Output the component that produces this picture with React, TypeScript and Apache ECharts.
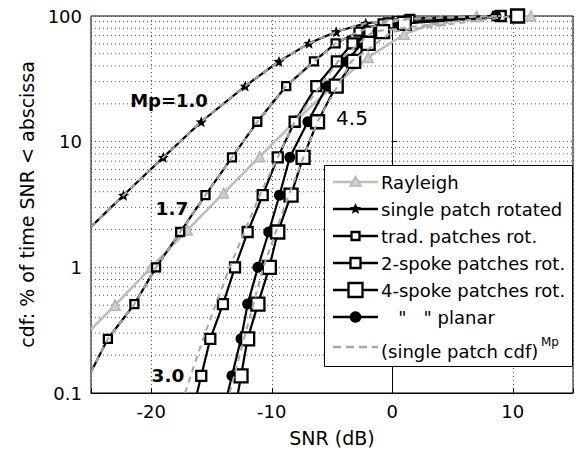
import React, { useEffect, useRef } from "react";
import * as echarts from "echarts";

// ---------- data ----------
const rayleighSnr = [-25, -23, -20, -17, -14, -11, -8, -5, -2, 1, 4, 7, 11.5];
const rayleighCdf = [0.32, 0.5, 1.0, 1.98, 3.9, 7.6, 14.7, 27.2, 46.8, 71.6, 91.9, 99.3, 100];

const singleSnr = [-25, -22.3, -19.0, -15.85, -12.2, -9.4, -6.9, -4.65, -2.2, 1.0, 8.5];
const singleCdf = [2.1, 3.75, 7.5, 14.4, 27.7, 43.5, 60.6, 75, 87.5, 95, 100];

const tradSnr = [-25, -23.6, -21.4, -19.6, -17.6, -15.5, -13.3, -11.2, -8.8, -6.5, -4.7, -2.8, -0.8, 1.5, 8.7];
const tradCdf = [0.147, 0.27, 0.51, 1.0, 1.91, 3.75, 7.5, 14.4, 27.7, 43.5, 60.6, 75, 87.5, 95, 100];

const spokeCdf = [0.1, 0.137, 0.27, 0.51, 1.0, 1.91, 3.75, 7.5, 14.4, 27.7, 43.5, 60.6, 75, 87.5, 100];
const spoke2Snr = [-16.2, -15.85, -15.1, -14.05, -13.05, -12.0, -10.75, -9.5, -8.1, -6.3, -4.6, -3.3, -1.9, -0.3, 9.0];
const spoke4Snr = [-12.8, -12.55, -12.0, -11.15, -10.2, -9.5, -8.4, -7.4, -6.2, -4.65, -3.2, -2.0, -0.8, 1.0, 10.4];
const planarSnr = [-13.65, -13.3, -12.55, -12.0, -11.15, -10.25, -9.36, -8.5, -7.0, -5.4, -3.8, -2.5, -1.2, 0.5, 8.6];

const dashCdf = [0.1, 0.27, 1.0, 3.75, 14.4, 43.5, 75, 100];
const dash30Snr = [-17.2, -15.7, -13.5, -11.0, -8.1, -4.5, -1.6, 9.0];
const dash45Snr = [-13.5, -12.3, -10.7, -8.6, -6.2, -3.4, 0.0, 10.0];

const xTicks = [-20, -10, 0, 10];
const xRange = [-25, 15];
const minorGridValues = [0.2, 0.3, 0.4, 0.5, 0.6, 0.7, 0.8, 0.9, 2, 3, 4, 5, 6, 7, 8, 9, 20, 30, 40, 50, 60, 70, 80, 90];

const legendLabels = [
  "Rayleigh",
  "single patch rotated",
  "trad. patches rot.",
  "2-spoke patches rot.",
  "4-spoke patches rot.",
  "\u00a0\u00a0\u00a0\"\u00a0\u00a0\u00a0\" planar",
  "(single patch cdf)",
];

// ---------- styles ----------
const FONT = "DejaVu Sans";
const STAR =
  "path://M0,-10L2.6,-3.6L9.5,-3.1L4.2,1.4L5.9,8.1L0,4.4L-5.9,8.1L-4.2,1.4L-9.5,-3.1L-2.6,-3.6Z";
const GREY = "#bdbdbd";
const DASH_GREY = "#a6a6a6";
const GRID_DOT = { color: "#555", type: [1, 3], width: 1 };

function pts(snr: number[], cdf: number[], bareFirst: boolean) {
  return snr.map((x, i) =>
    bareFirst && i === 0 ? { value: [x, cdf[i]], symbol: "none" } : { value: [x, cdf[i]] }
  );
}

function starPoints(cx: number, cy: number, r: number) {
  const out: number[][] = [];
  for (let i = 0; i < 10; i++) {
    const a = -Math.PI / 2 + (i * Math.PI) / 5;
    const rr = i % 2 === 0 ? r : r * 0.45;
    out.push([cx + rr * Math.cos(a), cy + rr * Math.sin(a)]);
  }
  return out;
}

export default function App() {
  const ref = useRef<HTMLDivElement>(null);

  useEffect(() => {
    if (!ref.current) return;
    const chart = echarts.init(ref.current, null, { renderer: "svg" });

    const blackLine = { color: "#000", width: 2.2 };
    const hollow = { color: "#fff", borderColor: "#000", borderWidth: 2.3 };

    const series: any[] = [];

    // minor (2..9) horizontal dotted grid lines of the log axis
    minorGridValues.forEach((v, k) => {
      series.push({
        name: "minor" + k,
        type: "line",
        data: [
          [xRange[0], v],
          [xRange[1], v],
        ],
        symbol: "none",
        silent: true,
        lineStyle: GRID_DOT,
        z: 1,
      });
    });

    series.push(
      {
        name: legendLabels[0],
        type: "line",
        data: pts(rayleighSnr, rayleighCdf, true),
        symbol: "triangle",
        symbolSize: 10,
        lineStyle: { color: GREY, width: 2.6 },
        itemStyle: { color: "#cfcfcf", borderColor: "#b5b5b5", borderWidth: 1.5 },
        z: 2,
      },
      {
        name: legendLabels[1],
        type: "line",
        data: pts(singleSnr, singleCdf, true),
        symbol: STAR,
        symbolSize: 11,
        lineStyle: blackLine,
        itemStyle: { color: "#000" },
        z: 3,
      },
      {
        name: legendLabels[2],
        type: "line",
        data: pts(tradSnr, tradCdf, true),
        symbol: "rect",
        symbolSize: 8,
        lineStyle: blackLine,
        itemStyle: hollow,
        z: 3,
      },
      {
        name: legendLabels[3],
        type: "line",
        data: pts(spoke2Snr, spokeCdf, true),
        symbol: "rect",
        symbolSize: 10,
        lineStyle: blackLine,
        itemStyle: hollow,
        z: 3,
      },
      {
        name: legendLabels[5],
        type: "line",
        data: pts(planarSnr, spokeCdf, true),
        symbol: "circle",
        symbolSize: 11,
        lineStyle: blackLine,
        itemStyle: { color: "#000" },
        z: 3,
      },
      {
        name: legendLabels[4],
        type: "line",
        data: pts(spoke4Snr, spokeCdf, true),
        symbol: "rect",
        symbolSize: 13,
        lineStyle: blackLine,
        itemStyle: hollow,
        z: 3,
      }
    );

    const dashSets: [number[], number[]][] = [
      [singleSnr, singleCdf],
      [tradSnr, tradCdf],
      [dash30Snr, dashCdf],
      [dash45Snr, dashCdf],
    ];
    dashSets.forEach(([s, c], k) => {
      series.push({
        name: "dash" + k,
        type: "line",
        data: s.map((x, i) => [x, c[i]]),
        symbol: "none",
        lineStyle: { color: DASH_GREY, width: 2, type: [6, 5] },
        z: 5,
      });
    });

    // legend drawn as graphic
    const LZ = 200;
    const LX0 = 333;
    const LX1 = 378;
    const LC = (LX0 + LX1) / 2;
    const TX = 381;
    const rows = [182, 209, 236, 263, 290, 317, 347];
    const children: any[] = [
      {
        type: "rect",
        z: LZ,
        shape: { x: 324.5, y: 165.5, width: 248, height: 201 },
        style: { fill: "#fff", stroke: "#000", lineWidth: 1 },
      },
    ];
    const lineEl = (y: number, stroke: string, w: number, dash?: number[]) => ({
      type: "line",
      z: LZ + 1,
      shape: { x1: LX0, y1: y, x2: LX1, y2: y },
      style: { stroke, lineWidth: w, lineDash: dash },
    });
    const rectEl = (y: number, s: number) => ({
      type: "rect",
      z: LZ + 2,
      shape: { x: LC - s / 2, y: y - s / 2, width: s, height: s },
      style: { fill: "#fff", stroke: "#000", lineWidth: 2.3 },
    });
    children.push(lineEl(rows[0], GREY, 2.6));
    children.push({
      type: "polygon",
      z: LZ + 2,
      shape: { points: [[LC, rows[0] - 5.5], [LC + 5.5, rows[0] + 4], [LC - 5.5, rows[0] + 4]] },
      style: { fill: "#cfcfcf", stroke: "#b5b5b5", lineWidth: 1.5 },
    });
    children.push(lineEl(rows[1], "#000", 2.5));
    children.push({ type: "polygon", z: LZ + 2, shape: { points: starPoints(LC, rows[1], 6) }, style: { fill: "#000" } });
    children.push(lineEl(rows[2], "#000", 2.5));
    children.push(rectEl(rows[2], 8));
    children.push(lineEl(rows[3], "#000", 2.5));
    children.push(rectEl(rows[3], 10));
    children.push(lineEl(rows[4], "#000", 2.5));
    children.push(rectEl(rows[4], 14));
    children.push(lineEl(rows[5], "#000", 2.5));
    children.push({ type: "circle", z: LZ + 2, shape: { cx: LC, cy: rows[5], r: 5.8 }, style: { fill: "#000" } });
    children.push(lineEl(rows[6], DASH_GREY, 2.6, [8, 5]));
    legendLabels.forEach((t, i) => {
      children.push({
        type: "text",
        z: LZ + 3,
        x: TX,
        y: i === 6 ? rows[i] + 4 : rows[i],
        style: { text: t, fontSize: 18, fontFamily: FONT, fill: "#000", verticalAlign: "middle", align: "left" },
      });
    });
    children.push({
      type: "text",
      z: LZ + 3,
      x: 541,
      y: 342,
      style: { text: "Mp", fontSize: 12, fontFamily: FONT, fill: "#000", verticalAlign: "middle", align: "left" },
    });

    const annot = (text: string, x: number, y: number, size: number, weight: string) => ({
      type: "text",
      z: 50,
      x,
      y,
      style: { text, fontSize: size, fontWeight: weight, fontFamily: FONT, fill: "#000", align: "center", verticalAlign: "middle" },
    });

    chart.setOption({
      animation: false,
      backgroundColor: "#fff",
      grid: { left: 91, right: 7, top: 16, bottom: 64, show: true, borderColor: "#000", borderWidth: 1 },
      xAxis: {
        type: "value",
        min: xRange[0],
        max: xRange[1],
        minInterval: 10,
        maxInterval: 10,
        name: "SNR (dB)",
        nameLocation: "middle",
        nameGap: 35,
        nameTextStyle: { fontSize: 19, fontFamily: FONT, color: "#000" },
        axisLine: { lineStyle: { color: "#000", width: 1 } },
        axisTick: { inside: true, length: 5, lineStyle: { color: "#000" } },
        axisLabel: {
          fontSize: 18,
          fontFamily: FONT,
          color: "#000",
          margin: 9,
          formatter: (v: number) => (xTicks.indexOf(v) >= 0 ? String(v) : ""),
        },
        splitLine: { show: true, lineStyle: GRID_DOT },
      },
      yAxis: {
        type: "log",
        logBase: 10,
        min: 0.1,
        max: 100,
        name: "cdf: % of time SNR < abscissa",
        nameLocation: "middle",
        nameGap: 52,
        nameRotate: 90,
        nameTextStyle: { fontSize: 19, fontFamily: FONT, color: "#000" },
        axisLine: { show: true, lineStyle: { color: "#000", width: 1 } },
        axisTick: { inside: true, length: 5, lineStyle: { color: "#000" } },
        axisLabel: {
          fontSize: 18,
          fontFamily: FONT,
          color: "#000",
          margin: 9,
          formatter: (v: number) => (v < 1 ? Number(v).toFixed(1) : String(Math.round(v))),
        },
        splitLine: { show: true, lineStyle: GRID_DOT },
      },
      series,
      graphic: [
        annot("Mp=1.0", 169, 100, 18, "bold"),
        annot("1.7", 172, 208, 18.5, "bold"),
        annot("3.0", 168, 375, 18.5, "bold"),
        annot("4.5", 352, 118, 20, "normal"),
        ...children,
      ],
    });

    return () => chart.dispose();
  }, []);

  return (
    <div
      ref={ref}
      style={{ position: "fixed", left: 0, top: 0, width: 580, height: 457, background: "#fff" }}
    />
  );
}
